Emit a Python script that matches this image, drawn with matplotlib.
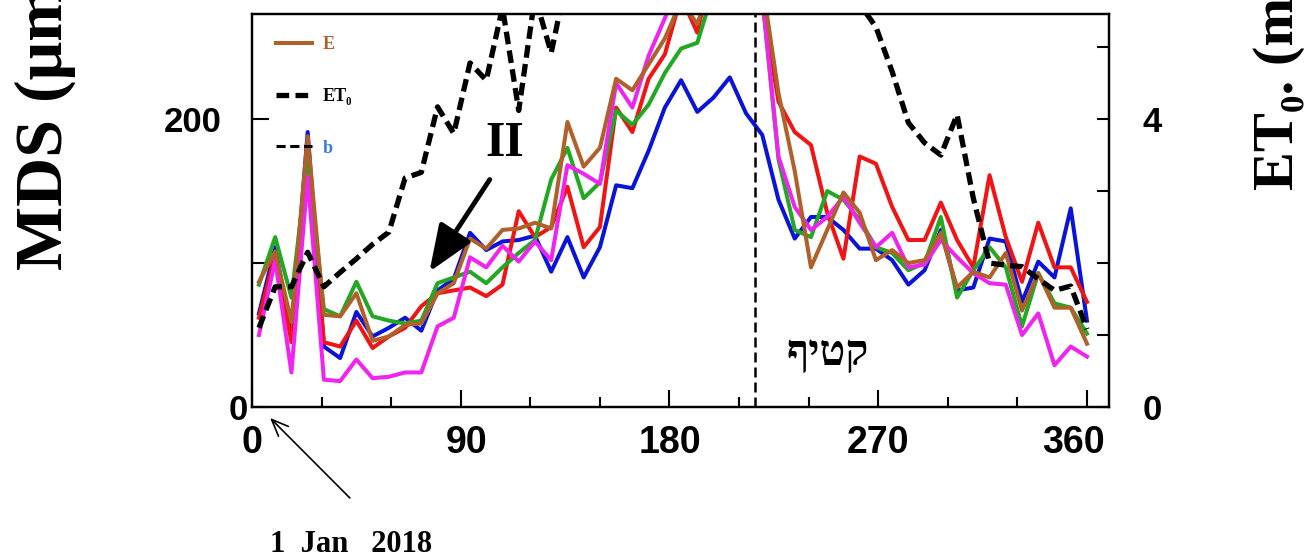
import matplotlib
matplotlib.use('Agg')
import matplotlib.pyplot as plt
from matplotlib.lines import Line2D
from matplotlib import font_manager
from matplotlib.transforms import ScaledTranslation

# weekly sampling days (day of year from 1 Jan 2018)
days = [3, 10, 17, 24, 31, 38, 45, 52, 59, 66, 73, 80, 87, 94, 101, 108, 115, 122,
        129, 136, 143, 150, 157, 164, 171, 178, 185, 192, 199, 206, 213, 220, 227,
        234, 241, 248, 255, 262, 269, 276, 283, 290, 297, 304, 311, 318, 325, 332,
        339, 346, 353, 360]

# MDS (um) per treatment
mds_blue = [65, 111, 49, 191, 42, 34, 66, 49, 55, 62, 53, 81, 89, 121, 109, 115, 116, 119,
            94, 118, 90, 111, 154, 152, 178, 208, 227, 205, 215, 229, 204, 189, 144,
            117, 132, 132, 123, 110, 110, 102, 85, 95, 123, 81, 83, 117, 115, 73,
            101, 90, 138, 60]
mds_red = [62, 106, 45, 175, 45, 42, 60, 41, 49, 55, 70, 79, 81, 83, 77, 85, 136, 118,
           125, 153, 111, 125, 208, 191, 228, 245, 285, 260, 310, 330, 320, 280, 212,
           191, 182, 135, 103, 174, 169, 139, 116, 116, 142, 116, 97, 161, 118, 87,
           128, 97, 97, 73]
mds_green = [85, 118, 76, 172, 68, 63, 87, 63, 60, 58, 60, 86, 90, 94, 86, 97, 107, 116,
             158, 180, 145, 156, 206, 196, 210, 232, 249, 253, 290, 320, 330, 285, 172,
             123, 118, 150, 144, 130, 111, 107, 95, 100, 132, 76, 95, 111, 97, 56,
             93, 72, 69, 51]
mds_magenta = [50, 102, 24, 160, 19, 18, 33, 20, 21, 24, 24, 56, 62, 104, 97, 112, 101, 115,
               102, 168, 162, 155, 225, 208, 244, 270, 300, 310, 330, 340, 340, 285, 174,
               139, 123, 132, 146, 128, 111, 121, 97, 99, 116, 104, 93, 86, 85, 50,
               65, 29, 42, 35]
mds_brown = [87, 108, 59, 188, 64, 63, 79, 46, 49, 57, 58, 79, 86, 117, 110, 123, 124, 128,
             124, 198, 167, 180, 228, 220, 238, 256, 282, 266, 300, 330, 330, 295, 218,
             164, 97, 123, 149, 135, 102, 109, 100, 102, 121, 83, 94, 90, 107, 67,
             93, 69, 69, 44]

# reference evapotranspiration (mm)
et0 = [1.10, 1.67, 1.67, 2.15, 1.67, 1.87, 2.06, 2.26, 2.43, 3.18, 3.26, 4.17, 3.80, 4.78,
       4.54, 5.55, 4.12, 5.70, 4.92, 6.0, 6.3, 6.5, 6.6, 6.8, 6.9, 7.0, 6.9, 7.1, 6.8,
       6.7, 6.8, 6.5, 6.4, 6.2, 6.1, 5.9, 5.8, 5.6, 5.28, 4.66, 3.95, 3.67, 3.50, 4.06,
       2.90, 2.00, 1.97, 1.95, 1.78, 1.62, 1.68, 1.08]

harvest_day = 217

installed = {f.name for f in font_manager.fontManager.ttflist}
serif = [f for f in ['Liberation Serif', 'DejaVu Serif', 'DejaVu Sans'] if f in installed]
sans = 'Liberation Sans' if 'Liberation Sans' in installed else 'DejaVu Sans'

fig = plt.figure(figsize=(13.1, 5.57), dpi=100)
ax = fig.add_axes([252 / 1310, 1 - 407 / 557, 857 / 1310, 393 / 557])
ax2 = ax.twinx()

ax.plot(days, mds_blue, color='#0a14d8', lw=2.9)
ax.plot(days, mds_red, color='#f01414', lw=2.9)
ax.plot(days, mds_green, color='#22a822', lw=2.9)
ax.plot(days, mds_magenta, color='#f024f0', lw=2.9)
brown_line, = ax.plot(days, mds_brown, color='#b0602a', lw=2.9)

et_line, = ax2.plot(days, et0, color='black', lw=3.8, dashes=(2.4, 1.2))

ax.axvline(harvest_day, color='black', lw=1.8, dashes=(4, 2))

ax.set_xlim(0, 369.5)
ax.set_ylim(0, 273)
ax2.set_ylim(0, 5.46)

ax.set_xticks([0, 90, 180, 270, 360])
ax.set_xticklabels(['0', '90', '180', '270', '360'])
ax.set_xticks(range(30, 360, 30), minor=True)
ax.set_yticks([0, 100, 200])
ax.set_yticklabels(['0', '', '200'])
ax2.set_yticks([0, 1, 2, 3, 4, 5])
ax2.set_yticklabels(['0', '', '', '', '4', ''])

ax.tick_params(axis='x', which='major', direction='in', length=12, width=1.5, pad=13)
ax.tick_params(axis='x', which='minor', direction='in', length=7, width=1.5)
ax.tick_params(axis='y', direction='in', length=12, width=1.5, pad=22)
ax2.tick_params(axis='y', direction='in', length=9, width=1.5, pad=24)
for a in (ax, ax2):
    for s in a.spines.values():
        s.set_linewidth(1.6)
    for lab in a.get_yticklabels():
        lab.set_fontfamily(sans)
        lab.set_fontweight('bold')
        lab.set_fontsize(25)
for lab in ax.get_xticklabels():
    lab.set_fontfamily(sans)
    lab.set_fontweight('bold')
    lab.set_fontsize(27)

# the source has its tick labels placed by hand, nudge a few
def nudge(label, dx_px):
    label.set_transform(label.get_transform() + ScaledTranslation(dx_px / 100, 0, fig.dpi_scale_trans))

nudge(ax.get_yticklabels()[0], 26)
nudge(ax.get_xticklabels()[1], 6)
nudge(ax.get_xticklabels()[4], -14)

# legend in the upper left corner
b_proxy = Line2D([], [], color='black', lw=2.2, dashes=(3, 1.5))
leg = ax.legend([brown_line, et_line, b_proxy], ['E', 'ET\u2080', 'b'],
                loc='upper left', bbox_to_anchor=(0.028, 0.943), frameon=False,
                borderaxespad=0, borderpad=0, handlelength=2.0, handletextpad=0.6,
                labelspacing=1.92,
                prop={'family': serif, 'weight': 'bold', 'size': 13})
for txt, c in zip(leg.get_texts(), ['#b0602a', 'black', '#3a7ad8']):
    txt.set_color(c)

# annotations
ax.text(109, 183, 'II', ha='center', va='center', fontsize=36,
        fontweight='bold', family=serif)
ax.annotate('', xy=(76.5, 94), xytext=(102.5, 158),
            arrowprops=dict(arrowstyle='-|>,head_length=0.95,head_width=0.38',
                            lw=3.5, color='black', mutation_scale=30,
                            shrinkA=0, shrinkB=0))
ax.text(248, 36, '\u05e3\u05d9\u05d8\u05e7', ha='center', va='center', fontsize=31,
        fontweight='bold', family=serif)
ax.annotate('', xy=(7.8, -7.6), xytext=(42.2, -63.2),
            arrowprops=dict(arrowstyle='->,head_length=0.6,head_width=0.25',
                            lw=1.2, color='black', mutation_scale=20,
                            shrinkA=0, shrinkB=0),
            annotation_clip=False)
fig.text(270 / 1310, 1 - 545 / 557, '1  Jan   2018', ha='left', va='center',
         fontsize=22, fontweight='bold', family=serif)

# axis titles, cut by the top edge like the source
fig.text(62 / 1310, 1 - 270 / 557, 'MDS (\u03bcm)', rotation=90, rotation_mode='anchor',
         ha='left', va='baseline', fontsize=49, fontweight='bold', family=serif)
fig.text(1293 / 1310, 1 - 190 / 557, 'ET\u2080. (mm)', rotation=90, rotation_mode='anchor',
         ha='left', va='baseline', fontsize=42, fontweight='bold', family=serif)

fig.savefig('out.png', dpi=100)
